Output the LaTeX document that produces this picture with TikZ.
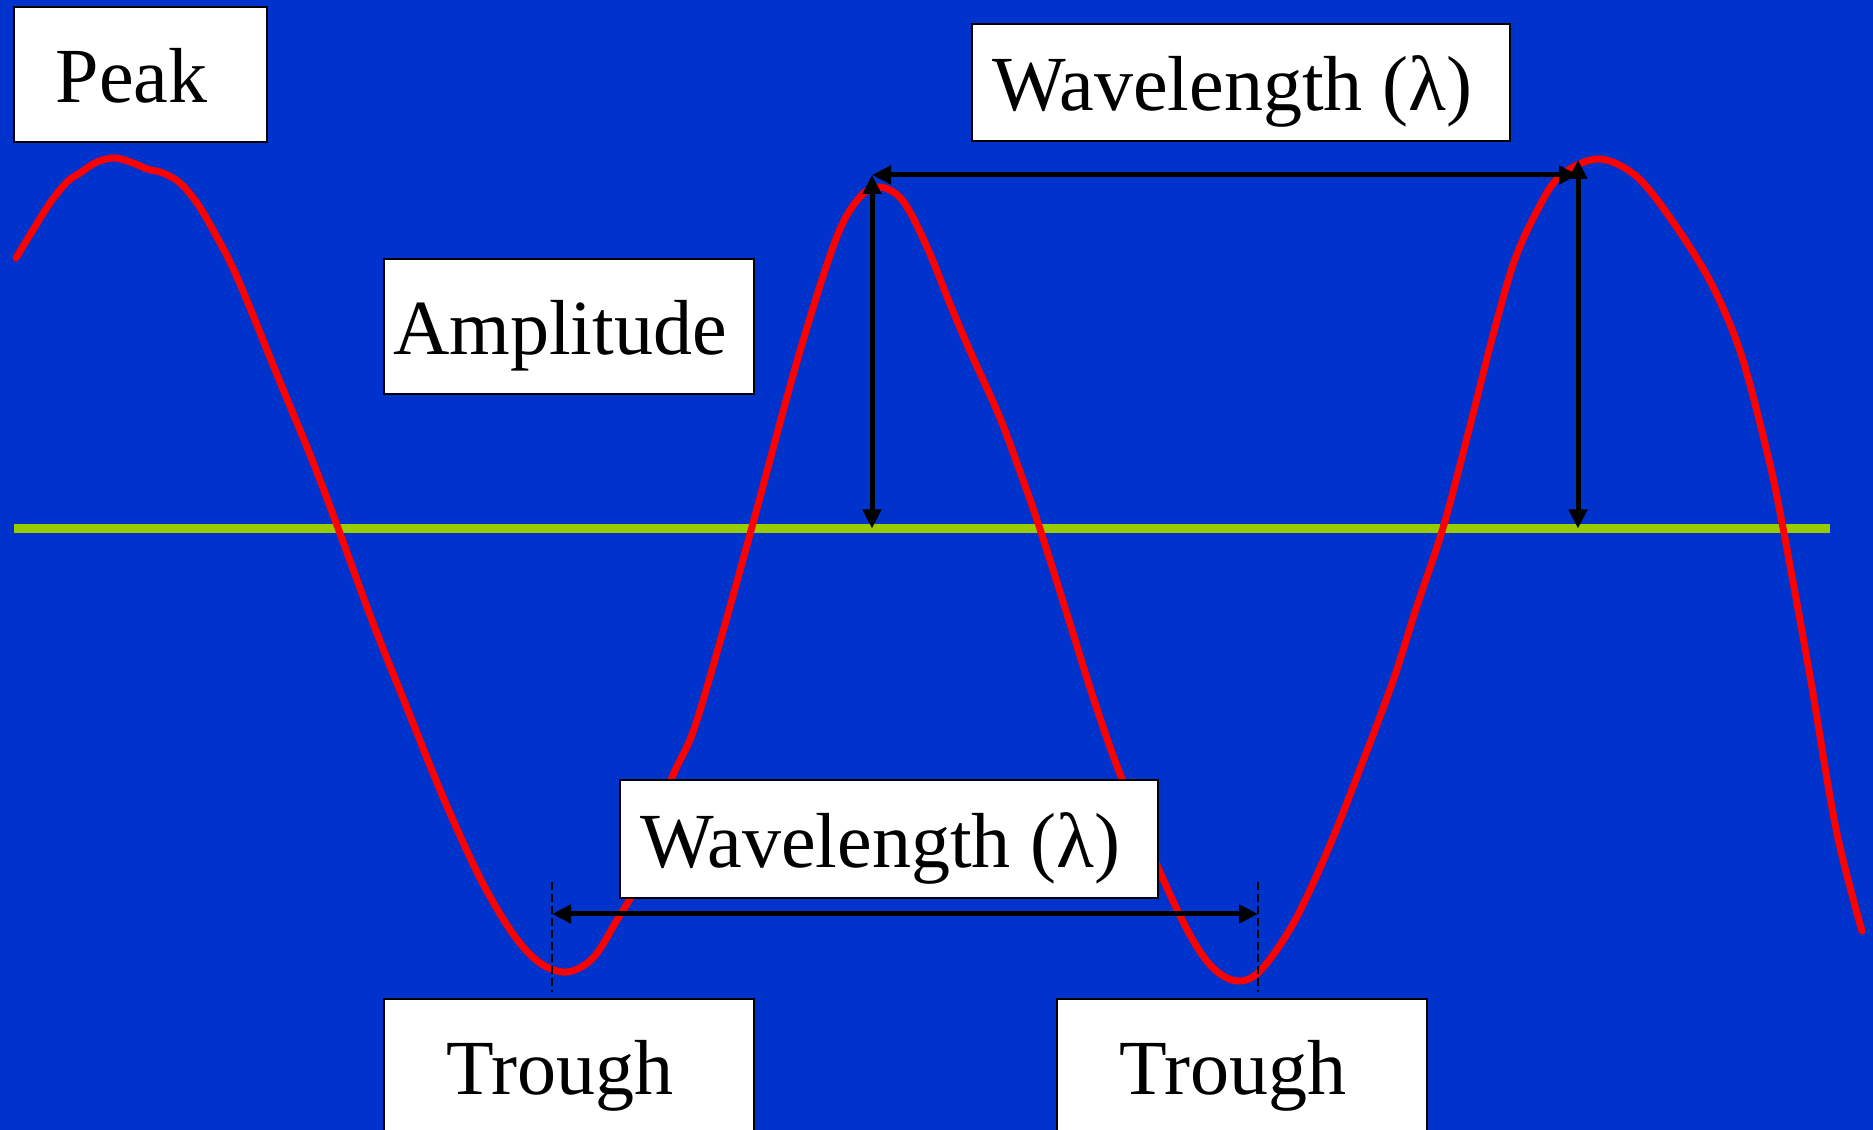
\documentclass[tikz,border=0pt]{standalone}
\usepackage{fontspec}
\setmainfont{Liberation Serif}
\usepackage{tikz}
\usetikzlibrary{arrows.meta,calc}
\definecolor{bgblue}{HTML}{0033CC}
\definecolor{restgreen}{HTML}{99CC00}
\definecolor{wavered}{HTML}{FF0000}

\begin{document}
\begin{tikzpicture}[
    >={Triangle[length=1.9mm,width=1.8mm]},
    tag/.style={draw=black, fill=white, line width=0.25mm, inner sep=0pt,
      text height=16pt, text depth=0pt,
      font=\fontsize{22.2}{26}\selectfont,
      execute at end node=\hspace{1.8mm}},
    measure/.style={line width=0.5mm, <->},
    guide/.style={line width=0.2mm, dash pattern=on 0.8mm off 0.4mm}]
  \useasboundingbox (0,0) rectangle (18.73,11.30);
  \fill[bgblue] (0,0) rectangle (18.73,11.30);

  % rest position
  \coordinate (restL) at (0.14,6.015);
  \coordinate (restR) at (18.30,6.015);
  \draw[restgreen, line width=0.9mm] (restL) -- (restR);

  % the wave
  \draw[wavered, line width=0.7mm, line join=round, line cap=round]
    plot[smooth, tension=0.55] coordinates {
      (0.16,8.72) (0.33,9.00) (0.50,9.27) (0.67,9.48) (0.80,9.57)
      (0.97,9.68) (1.15,9.72) (1.33,9.67) (1.47,9.61) (1.63,9.57)
      (1.80,9.47) (1.97,9.27) (2.13,9.00) (2.37,8.53) (2.80,7.48)
      (3.13,6.68) (3.38,6.02) (3.73,5.07) (4.07,4.22) (4.43,3.33)
      (4.80,2.52) (5.13,1.96) (5.40,1.67) (5.67,1.58) (5.93,1.72)
      (6.17,2.10) (6.40,2.52) (6.70,3.47) (6.93,3.98) (7.20,4.88)
      (7.52,6.03) (7.98,7.72) (8.36,8.91) (8.60,9.33) (8.80,9.43)
      (9.03,9.29) (9.27,8.83) (9.50,8.26) (9.70,7.79) (10.00,7.12)
      (10.23,6.50) (10.40,6.01) (10.67,5.16) (10.93,4.33) (11.20,3.56)
      (11.60,2.58) (11.90,1.95) (12.13,1.62) (12.37,1.49) (12.60,1.59)
      (12.93,2.06) (13.27,2.78) (13.60,3.61) (13.93,4.49) (14.16,5.21)
      (14.43,6.02) (14.69,7.00) (14.92,7.91) (15.14,8.68) (15.37,9.19)
      (15.60,9.54) (15.98,9.71) (16.36,9.54) (16.73,9.08) (17.11,8.47)
      (17.41,7.76) (17.68,6.74) (17.83,6.02) (18.10,4.54) (18.36,3.01)
      (18.62,1.99)};

  % amplitude and wavelength marks
  \coordinate (crestA) at (8.72,9.55);
  \coordinate (crestB) at (15.78,9.70);
  \coordinate (troughA) at (5.52,2.16);
  \coordinate (troughB) at (12.58,2.16);
  \draw[measure] (crestA) -- (crestA |- restL);
  \draw[measure] (crestB) -- (crestB |- restL);
  \draw[measure] (crestA) -- (crestA -| crestB);
  \draw[guide] ($(troughA)+(0,0.32)$) -- ($(troughA)+(0,-0.78)$);
  \draw[guide] ($(troughB)+(0,0.32)$) -- ($(troughB)+(0,-0.78)$);
  \draw[measure] (troughA) -- (troughB);

  % labels
  \node[tag, minimum width=2.53cm, minimum height=1.35cm] (peak) at (1.405,10.555) {Peak};
  \node[tag, minimum width=5.38cm, minimum height=1.17cm] (wavetop) at (12.41,10.475) {Wavelength (λ)};
  \node[tag, minimum width=3.70cm, minimum height=1.35cm] (amplitude) at (5.69,8.035) {Amplitude};
  \node[tag, minimum width=5.38cm, minimum height=1.18cm] (wavebot) at (8.89,2.91) {Wavelength (λ)};
  \node[tag, minimum width=3.70cm, minimum height=1.35cm] (troughleft) at (5.69,0.635) {Trough};
  \node[tag, minimum width=3.70cm, minimum height=1.35cm] (troughright) at (12.42,0.635) {Trough};
\end{tikzpicture}
\end{document}
